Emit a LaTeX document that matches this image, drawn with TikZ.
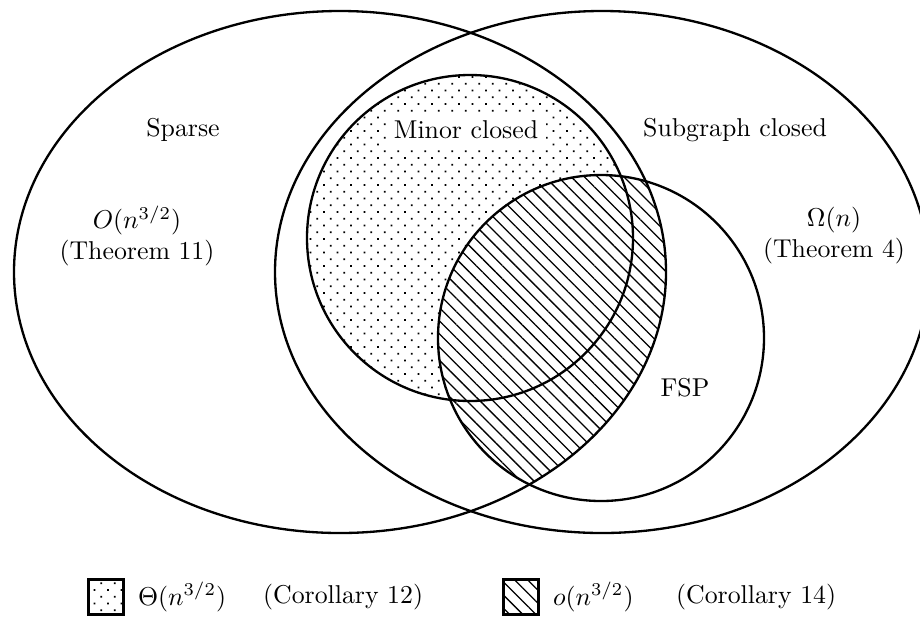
\documentclass[tikz,border=0pt]{standalone}
\usetikzlibrary{patterns.meta}
\begin{document}
\begin{tikzpicture}[x=0.3876pt,y=-0.3876pt,
  outline/.style={line width=0.9pt},
  dotfill/.style={pattern={Dots[distance=3.7pt,angle=45,radius=0.5pt]}},
  hatchfill/.style={pattern={Lines[angle=-45,distance=3.6pt,line width=0.5pt]}},
  lbl/.style={align=center, inner sep=1pt},
  keybox/.style={draw, line width=0.9pt, minimum size=13.5pt, inner sep=0pt}]
\useasboundingbox (0,0) rectangle (920,617);
% centres of the sets
\coordinate (cS) at (340,272);
\coordinate (cG) at (602,272);
\coordinate (cM) at (470,238);
\coordinate (cF) at (601,338);
% dotted: minor closed
\fill[dotfill] (cM) circle [radius=163];
% hatched: FSP inside Sparse
\begin{scope}
  \clip (cS) ellipse [x radius=326, y radius=261];
  \fill[white] (cF) circle [radius=163];
  \fill[hatchfill] (cF) circle [radius=163];
\end{scope}
% outlines
\draw[outline] (cS) ellipse [x radius=326, y radius=261];
\draw[outline] (cG) ellipse [x radius=327, y radius=261];
\draw[outline] (cM) circle [radius=163];
\draw[outline] (cF) circle [radius=163];
% labels
\node[lbl] (sparse) at (183,130) {Sparse};
\node[lbl] (sparseb) at (137,236) {$O(n^{3/2})$\\(Theorem 11)};
\node[lbl, fill=white, inner sep=3pt] (minor) at (466,130) {Minor closed};
\node[lbl] (subg) at (735,130) {Subgraph closed};
\node[lbl] (subgb) at (834,236) {$\Omega(n)$\\(Theorem 4)};
\node[lbl] (fsp) at (685,388) {FSP};
% legend
\node[keybox, dotfill] (k1) at (106,597) {};
\node[lbl, anchor=west] (t1) at (135,597) {$\Theta(n^{3/2})$};
\node[lbl, anchor=west] (c1) at (260,597) {(Corollary 12)};
\node[keybox, hatchfill] (k2) at (521,597) {};
\node[lbl, anchor=west] (t2) at (550,597) {$o(n^{3/2})$};
\node[lbl, anchor=west] (c2) at (673,597) {(Corollary 14)};
\end{tikzpicture}
\end{document}
